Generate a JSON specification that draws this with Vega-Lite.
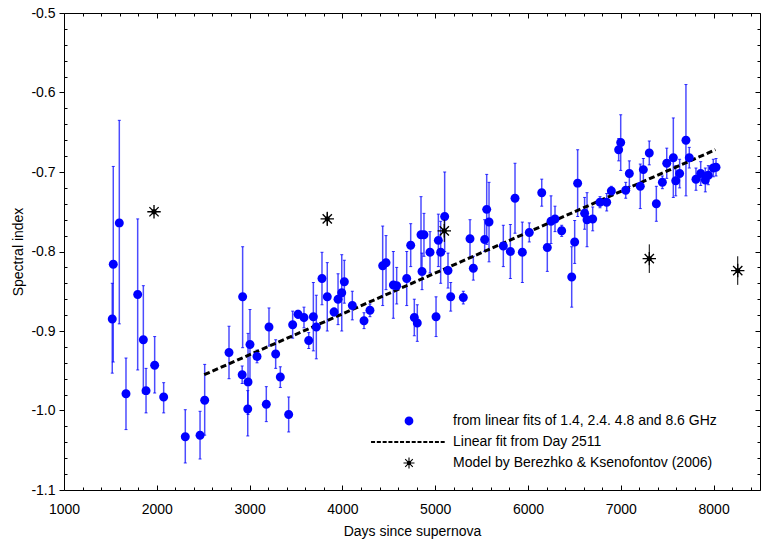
{
  "$schema": "https://vega.github.io/schema/vega-lite/v6.json",
  "width": 696,
  "height": 477,
  "autosize": {"type": "none"},
  "padding": {"left": 64, "top": 13, "right": 8, "bottom": 55},
  "background": "white",
  "config": {
    "view": {"stroke": "black", "strokeWidth": 1},
    "axis": {"domain": false, "grid": false, "tickColor": "black", "tickWidth": 1, "labelFont": "Liberation Sans", "labelFontSize": 14, "labelColor": "black", "titleFont": "Liberation Sans", "titleFontSize": 14, "titleFontWeight": "normal", "titleColor": "black", "labelOverlap": false, "labelFlush": false},
    "legend": {"labelFont": "Liberation Sans", "labelFontSize": 14, "labelColor": "black", "labelLimit": 500}
  },
  "datasets": {
    "pts": [
      {"day": 1520, "y": -0.885, "lo": -0.953, "hi": -0.84},
      {"day": 1531, "y": -0.816, "lo": -0.939, "hi": -0.693},
      {"day": 1596, "y": -0.764, "lo": -0.891, "hi": -0.635},
      {"day": 1668, "y": -0.979, "lo": -1.024, "hi": -0.934},
      {"day": 1794, "y": -0.854, "lo": -0.949, "hi": -0.759},
      {"day": 1855, "y": -0.911, "lo": -0.978, "hi": -0.843},
      {"day": 1884, "y": -0.975, "lo": -1.003, "hi": -0.947},
      {"day": 1977, "y": -0.943, "lo": -0.978, "hi": -0.907},
      {"day": 2074, "y": -0.983, "lo": -1.003, "hi": -0.965},
      {"day": 2307, "y": -1.033, "lo": -1.066, "hi": -0.999},
      {"day": 2466, "y": -1.031, "lo": -1.061, "hi": -1.001},
      {"day": 2516, "y": -0.987, "lo": -1.031, "hi": -0.942},
      {"day": 2778, "y": -0.927, "lo": -0.96, "hi": -0.894},
      {"day": 2925, "y": -0.857, "lo": -0.921, "hi": -0.794},
      {"day": 2920, "y": -0.955, "lo": -0.966, "hi": -0.944},
      {"day": 2983, "y": -0.964, "lo": -1.005, "hi": -0.903},
      {"day": 2980, "y": -0.998, "lo": -1.032, "hi": -0.975},
      {"day": 3004, "y": -0.917, "lo": -0.961, "hi": -0.873},
      {"day": 3080, "y": -0.932, "lo": -0.94, "hi": -0.924},
      {"day": 3180, "y": -0.992, "lo": -1.014, "hi": -0.97},
      {"day": 3209, "y": -0.895, "lo": -0.919, "hi": -0.871},
      {"day": 3281, "y": -0.929, "lo": -0.947, "hi": -0.911},
      {"day": 3331, "y": -0.958, "lo": -0.971, "hi": -0.945},
      {"day": 3421, "y": -1.005, "lo": -1.027, "hi": -0.983},
      {"day": 3464, "y": -0.892, "lo": -0.909, "hi": -0.875},
      {"day": 3522, "y": -0.879, "lo": -0.884, "hi": -0.874},
      {"day": 3586, "y": -0.883, "lo": -0.896, "hi": -0.87},
      {"day": 3637, "y": -0.912, "lo": -0.922, "hi": -0.902},
      {"day": 3687, "y": -0.882, "lo": -0.925, "hi": -0.839},
      {"day": 3719, "y": -0.895, "lo": -0.935, "hi": -0.855},
      {"day": 3780, "y": -0.834, "lo": -0.867, "hi": -0.801},
      {"day": 3837, "y": -0.857, "lo": -0.9, "hi": -0.814},
      {"day": 3910, "y": -0.876, "lo": -0.881, "hi": -0.871},
      {"day": 3953, "y": -0.86, "lo": -0.892, "hi": -0.828},
      {"day": 3993, "y": -0.852, "lo": -0.9, "hi": -0.804},
      {"day": 4021, "y": -0.838, "lo": -0.865, "hi": -0.811},
      {"day": 4107, "y": -0.868, "lo": -0.886, "hi": -0.85},
      {"day": 4233, "y": -0.887, "lo": -0.897, "hi": -0.877},
      {"day": 4297, "y": -0.874, "lo": -0.882, "hi": -0.866},
      {"day": 4434, "y": -0.818, "lo": -0.868, "hi": -0.768},
      {"day": 4470, "y": -0.814, "lo": -0.848, "hi": -0.78},
      {"day": 4549, "y": -0.842, "lo": -0.884, "hi": -0.8},
      {"day": 4585, "y": -0.843, "lo": -0.866, "hi": -0.82},
      {"day": 4693, "y": -0.834, "lo": -0.868, "hi": -0.8},
      {"day": 4736, "y": -0.792, "lo": -0.819, "hi": -0.765},
      {"day": 4775, "y": -0.883, "lo": -0.906, "hi": -0.86},
      {"day": 4807, "y": -0.89, "lo": -0.913, "hi": -0.867},
      {"day": 4847, "y": -0.779, "lo": -0.827, "hi": -0.731},
      {"day": 4879, "y": -0.779, "lo": -0.806, "hi": -0.752},
      {"day": 4858, "y": -0.825, "lo": -0.848, "hi": -0.802},
      {"day": 4944, "y": -0.801, "lo": -0.827, "hi": -0.775},
      {"day": 5009, "y": -0.882, "lo": -0.907, "hi": -0.857},
      {"day": 5034, "y": -0.786, "lo": -0.819, "hi": -0.753},
      {"day": 5059, "y": -0.801, "lo": -0.84, "hi": -0.762},
      {"day": 5102, "y": -0.756, "lo": -0.8, "hi": -0.7},
      {"day": 5138, "y": -0.824, "lo": -0.846, "hi": -0.802},
      {"day": 5167, "y": -0.857, "lo": -0.875, "hi": -0.839},
      {"day": 5303, "y": -0.858, "lo": -0.866, "hi": -0.85},
      {"day": 5375, "y": -0.784, "lo": -0.808, "hi": -0.76},
      {"day": 5411, "y": -0.821, "lo": -0.836, "hi": -0.806},
      {"day": 5533, "y": -0.785, "lo": -0.8, "hi": -0.76},
      {"day": 5555, "y": -0.747, "lo": -0.791, "hi": -0.703},
      {"day": 5580, "y": -0.763, "lo": -0.813, "hi": -0.713},
      {"day": 5734, "y": -0.793, "lo": -0.819, "hi": -0.767},
      {"day": 5810, "y": -0.8, "lo": -0.834, "hi": -0.766},
      {"day": 5860, "y": -0.733, "lo": -0.777, "hi": -0.689},
      {"day": 5939, "y": -0.801, "lo": -0.839, "hi": -0.763},
      {"day": 6014, "y": -0.776, "lo": -0.788, "hi": -0.764},
      {"day": 6148, "y": -0.726, "lo": -0.743, "hi": -0.709},
      {"day": 6208, "y": -0.795, "lo": -0.825, "hi": -0.765},
      {"day": 6248, "y": -0.762, "lo": -0.79, "hi": -0.73},
      {"day": 6291, "y": -0.759, "lo": -0.775, "hi": -0.743},
      {"day": 6363, "y": -0.774, "lo": -0.781, "hi": -0.767},
      {"day": 6471, "y": -0.832, "lo": -0.87, "hi": -0.794},
      {"day": 6503, "y": -0.788, "lo": -0.815, "hi": -0.761},
      {"day": 6535, "y": -0.714, "lo": -0.756, "hi": -0.672},
      {"day": 6610, "y": -0.752, "lo": -0.772, "hi": -0.732},
      {"day": 6636, "y": -0.76, "lo": -0.794, "hi": -0.726},
      {"day": 6697, "y": -0.759, "lo": -0.774, "hi": -0.744},
      {"day": 6776, "y": -0.738, "lo": -0.745, "hi": -0.731},
      {"day": 6848, "y": -0.738, "lo": -0.749, "hi": -0.727},
      {"day": 6898, "y": -0.724, "lo": -0.73, "hi": -0.718},
      {"day": 6977, "y": -0.672, "lo": -0.686, "hi": -0.658},
      {"day": 6999, "y": -0.663, "lo": -0.698, "hi": -0.628},
      {"day": 7053, "y": -0.723, "lo": -0.733, "hi": -0.713},
      {"day": 7092, "y": -0.702, "lo": -0.718, "hi": -0.686},
      {"day": 7210, "y": -0.718, "lo": -0.746, "hi": -0.69},
      {"day": 7243, "y": -0.697, "lo": -0.712, "hi": -0.683},
      {"day": 7307, "y": -0.676, "lo": -0.691, "hi": -0.661},
      {"day": 7383, "y": -0.74, "lo": -0.762, "hi": -0.718},
      {"day": 7448, "y": -0.713, "lo": -0.721, "hi": -0.705},
      {"day": 7495, "y": -0.689, "lo": -0.708, "hi": -0.67},
      {"day": 7566, "y": -0.682, "lo": -0.732, "hi": -0.632},
      {"day": 7592, "y": -0.711, "lo": -0.73, "hi": -0.692},
      {"day": 7634, "y": -0.702, "lo": -0.72, "hi": -0.684},
      {"day": 7702, "y": -0.66, "lo": -0.73, "hi": -0.59},
      {"day": 7738, "y": -0.682, "lo": -0.695, "hi": -0.669},
      {"day": 7810, "y": -0.709, "lo": -0.723, "hi": -0.695},
      {"day": 7861, "y": -0.702, "lo": -0.717, "hi": -0.687},
      {"day": 7911, "y": -0.71, "lo": -0.725, "hi": -0.695},
      {"day": 7943, "y": -0.704, "lo": -0.716, "hi": -0.692},
      {"day": 7997, "y": -0.695, "lo": -0.706, "hi": -0.684},
      {"day": 8026, "y": -0.694, "lo": -0.705, "hi": -0.683}
    ],
    "fit": [
      {"day": 2511, "y": -0.955},
      {"day": 8020, "y": -0.672}
    ],
    "model": [
      {"day": 1970, "y": -0.75, "lo": -0.75, "hi": -0.75},
      {"day": 3837, "y": -0.759, "lo": -0.768, "hi": -0.75},
      {"day": 5098, "y": -0.774, "lo": -0.788, "hi": -0.76},
      {"day": 7307, "y": -0.809, "lo": -0.827, "hi": -0.791},
      {"day": 8260, "y": -0.824, "lo": -0.842, "hi": -0.806}
    ]
  },
  "resolve": {"axis": {"x": "independent", "y": "independent"}},
  "layer": [
    {
      "data": {"name": "pts"},
      "mark": {"type": "rule", "color": "#0000ff", "strokeWidth": 1.5, "opacity": 0.7},
      "encoding": {
        "x": {"field": "day", "type": "quantitative", "scale": {"domain": [1000, 8500], "nice": false, "zero": false},
          "axis": {"orient": "bottom", "title": "Days since supernova", "titlePadding": 8, "format": "d",
            "values": [1000, 2000, 3000, 4000, 5000, 6000, 7000, 8000],
            "tickSize": -5, "labelPadding": 17}},
        "y": {"field": "lo", "type": "quantitative", "scale": {"domain": [-1.1, -0.5], "nice": false, "zero": false},
          "axis": {"orient": "left", "title": "Spectral index", "titlePadding": 5,
            "values": [-1.1, -1.0, -0.9, -0.8, -0.7, -0.6, -0.5],
            "labelExpr": "(datum.value < 0 ? '-' : '') + format(abs(datum.value), '.1f')",
            "tickSize": 5, "labelPadding": 4}},
        "y2": {"field": "hi"}
      }
    },
    {
      "data": {"name": "pts"},
      "mark": {"type": "tick", "orient": "horizontal", "color": "#0000ff", "size": 3, "thickness": 1, "opacity": 0.8},
      "encoding": {
        "x": {"field": "day", "type": "quantitative", "scale": {"domain": [1000, 8500], "nice": false, "zero": false},
          "axis": {"orient": "bottom", "title": null, "labels": false, "tickSize": -3,
            "values": [1200,1400,1600,1800,2200,2400,2600,2800,3200,3400,3600,3800,4200,4400,4600,4800,5200,5400,5600,5800,6200,6400,6600,6800,7200,7400,7600,7800,8200,8400]}},
        "y": {"field": "lo", "type": "quantitative", "scale": {"domain": [-1.1, -0.5], "nice": false, "zero": false},
          "axis": {"orient": "left", "title": null, "labels": false, "tickSize": -3,
            "values": [-1.08,-1.06,-1.04,-1.02,-0.98,-0.96,-0.94,-0.92,-0.88,-0.86,-0.84,-0.82,-0.78,-0.76,-0.74,-0.72,-0.68,-0.66,-0.64,-0.62,-0.58,-0.56,-0.54,-0.52]}}
      }
    },
    {
      "data": {"name": "pts"},
      "mark": {"type": "tick", "orient": "horizontal", "color": "#0000ff", "size": 3, "thickness": 1, "opacity": 0.8},
      "encoding": {
        "x": {"field": "day", "type": "quantitative", "scale": {"domain": [1000, 8500], "nice": false, "zero": false},
          "axis": {"orient": "top", "title": null, "labels": false, "tickSize": -5,
            "values": [1000, 2000, 3000, 4000, 5000, 6000, 7000, 8000]}},
        "y": {"field": "hi", "type": "quantitative", "scale": {"domain": [-1.1, -0.5], "nice": false, "zero": false},
          "axis": {"orient": "right", "title": null, "labels": false, "tickSize": -5,
            "values": [-1.1, -1.0, -0.9, -0.8, -0.7, -0.6, -0.5]}}
      }
    },
    {
      "data": {"name": "fit"},
      "mark": {"type": "line", "color": "black", "strokeWidth": 3, "strokeDash": [6, 3]},
      "encoding": {
        "x": {"field": "day", "type": "quantitative", "scale": {"domain": [1000, 8500], "nice": false, "zero": false},
          "axis": {"orient": "top", "title": null, "labels": false, "tickSize": -3,
            "values": [1200,1400,1600,1800,2200,2400,2600,2800,3200,3400,3600,3800,4200,4400,4600,4800,5200,5400,5600,5800,6200,6400,6600,6800,7200,7400,7600,7800,8200,8400]}},
        "y": {"field": "y", "type": "quantitative", "scale": {"domain": [-1.1, -0.5], "nice": false, "zero": false},
          "axis": {"orient": "right", "title": null, "labels": false, "tickSize": -3,
            "values": [-1.08,-1.06,-1.04,-1.02,-0.98,-0.96,-0.94,-0.92,-0.88,-0.86,-0.84,-0.82,-0.78,-0.76,-0.74,-0.72,-0.68,-0.66,-0.64,-0.62,-0.58,-0.56,-0.54,-0.52]}}
      }
    },
    {
      "data": {"name": "pts"},
      "transform": [{"calculate": "'from linear fits of 1.4, 2.4. 4.8 and 8.6 GHz'", "as": "series"}],
      "mark": {"type": "point", "filled": true, "opacity": 1, "size": 126},
      "encoding": {
        "x": {"field": "day", "type": "quantitative", "scale": {"domain": [1000, 8500], "nice": false, "zero": false}, "axis": null},
        "y": {"field": "y", "type": "quantitative", "scale": {"domain": [-1.1, -0.5], "nice": false, "zero": false}, "axis": null},
        "color": {"field": "series", "type": "nominal",
          "scale": {"domain": ["from linear fits of 1.4, 2.4. 4.8 and 8.6 GHz", "Linear fit from Day 2511", "Model by Berezhko & Ksenofontov (2006)"], "range": ["#0000ff", "#000000", "#000000"]},
          "legend": {"title": null, "orient": "none", "legendX": 338, "legendY": 401, "padding": 0, "symbolSize": 121, "labelOffset": 37, "rowPadding": 7, "symbolStrokeWidth": 0}},
        "shape": {"field": "series", "type": "nominal",
          "scale": {"domain": ["from linear fits of 1.4, 2.4. 4.8 and 8.6 GHz", "Linear fit from Day 2511", "Model by Berezhko & Ksenofontov (2006)"],
            "range": [
              "M0.8,0A0.8,0.8,0,1,1,-0.8,0A0.8,0.8,0,1,1,0.8,0Z",
              "M-6.9,-0.18L-6.17,-0.18L-6.17,0.18L-6.9,0.18ZM-5.85,-0.18L-5.12,-0.18L-5.12,0.18L-5.85,0.18ZM-4.79,-0.18L-4.06,-0.18L-4.06,0.18L-4.79,0.18ZM-3.74,-0.18L-3.01,-0.18L-3.01,0.18L-3.74,0.18ZM-2.68,-0.18L-1.95,-0.18L-1.95,0.18L-2.68,0.18ZM-1.63,-0.18L-0.9,-0.18L-0.9,0.18L-1.63,0.18ZM-0.57,-0.18L0.16,-0.18L0.16,0.18L-0.57,0.18ZM0.49,-0.18L1.22,-0.18L1.22,0.18L0.49,0.18ZM1.54,-0.18L2.27,-0.18L2.27,0.18L1.54,0.18ZM2.6,-0.18L3.33,-0.18L3.33,0.18L2.6,0.18ZM3.65,-0.18L4.38,-0.18L4.38,0.18L3.65,0.18ZM4.71,-0.18L5.44,-0.18L5.44,0.18L4.71,0.18ZM5.76,-0.18L6.49,-0.18L6.49,0.18L5.76,0.18Z",
              "M-0.36,-0.36L0.36,-0.36L0.36,0.36L-0.36,0.36ZM-1,-0.1L1,-0.1L1,0.1L-1,0.1ZM-0.1,-1L0.1,-1L0.1,1L-0.1,1ZM-0.62,-0.76L0.76,0.62L0.62,0.76L-0.76,-0.62ZM0.76,-0.62L-0.62,0.76L-0.76,0.62L0.62,-0.76Z"
            ]},
          "legend": {"title": null, "orient": "none", "legendX": 338, "legendY": 401, "padding": 0, "symbolSize": 121, "labelOffset": 37, "rowPadding": 7, "symbolStrokeWidth": 0}}
      }
    },
    {
      "data": {"name": "model"},
      "mark": {"type": "rule", "color": "black", "strokeWidth": 1},
      "encoding": {
        "x": {"field": "day", "type": "quantitative", "scale": {"domain": [1000, 8500], "nice": false, "zero": false}, "axis": null},
        "y": {"field": "lo", "type": "quantitative", "scale": {"domain": [-1.1, -0.5], "nice": false, "zero": false}, "axis": null},
        "y2": {"field": "hi"}
      }
    },
    {
      "data": {"name": "model"},
      "mark": {"type": "point", "filled": true, "opacity": 1, "color": "black", "size": 180,
        "shape": "M-0.36,-0.36L0.36,-0.36L0.36,0.36L-0.36,0.36ZM-1,-0.1L1,-0.1L1,0.1L-1,0.1ZM-0.1,-1L0.1,-1L0.1,1L-0.1,1ZM-0.62,-0.76L0.76,0.62L0.62,0.76L-0.76,-0.62ZM0.76,-0.62L-0.62,0.76L-0.76,0.62L0.62,-0.76Z"},
      "encoding": {
        "x": {"field": "day", "type": "quantitative", "scale": {"domain": [1000, 8500], "nice": false, "zero": false}, "axis": null},
        "y": {"field": "y", "type": "quantitative", "scale": {"domain": [-1.1, -0.5], "nice": false, "zero": false}, "axis": null}
      }
    }
  ]
}
